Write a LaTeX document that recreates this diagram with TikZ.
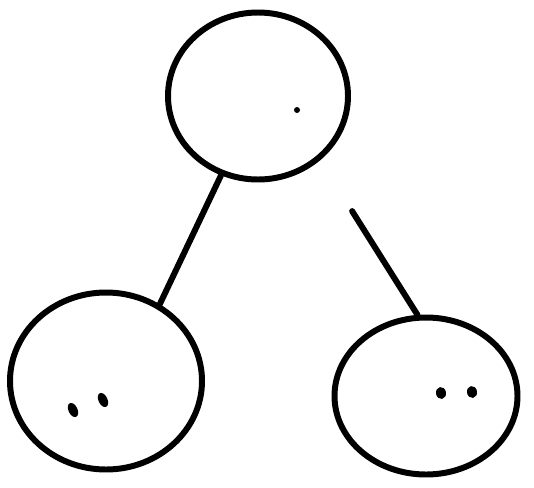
\documentclass[tikz,border=0pt]{standalone}
\usetikzlibrary{shapes.geometric}

\begin{document}
\begin{tikzpicture}[line width=1.7pt, line cap=round, scale=1,
    blob/.style={draw, ellipse, inner sep=0pt},
    dot/.style={fill, ellipse, inner sep=0pt, minimum width=0.09cm, minimum height=0.15cm}]
    \useasboundingbox (0, 0) rectangle (5.34, 4.87);
    \node[blob, minimum width=1.80cm, minimum height=1.67cm] (root) at (2.58, 3.91) {};
    \node[blob, minimum width=1.92cm, minimum height=1.77cm] (left) at (1.06, 1.06) {};
    \node[blob, minimum width=1.83cm, minimum height=1.57cm] (right) at (4.26, 0.91) {};
    \node[dot, minimum width=0.06cm, minimum height=0.06cm] (r1) at (2.97, 3.77) {};
    \node[dot, rotate=25] (l1) at (0.73, 0.77) {};
    \node[dot, rotate=25] (l2) at (1.03, 0.87) {};
    \node[dot, rotate=10, minimum width=0.10cm, minimum height=0.12cm] (g1) at (4.41, 0.94) {};
    \node[dot, rotate=10, minimum width=0.10cm, minimum height=0.12cm] (g2) at (4.72, 0.95) {};
    \draw (root.245) -- (left.55);
    \draw[shorten <=0.6cm] (root.314) -- (right.96);
\end{tikzpicture}
\end{document}
